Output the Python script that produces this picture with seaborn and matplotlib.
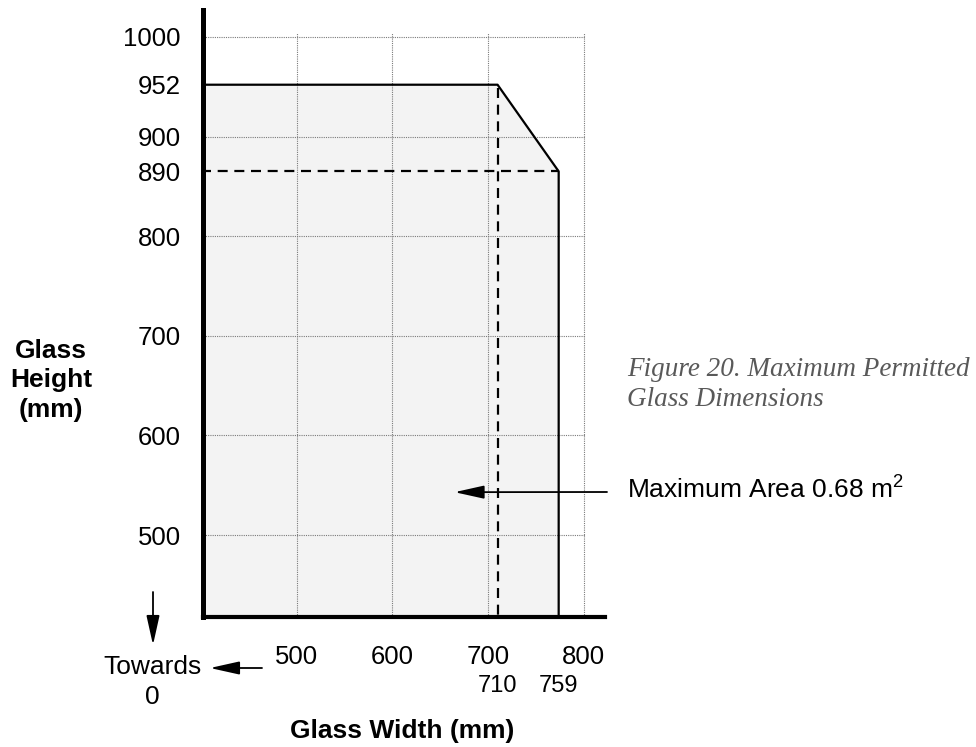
import numpy as np
import matplotlib
matplotlib.use("Agg")
import matplotlib.pyplot as plt
import seaborn as sns

# permitted glass envelope (mm)
env_width = [400, 710, 759, 759]
env_height = [952, 952, 890, 0]
fill_width = [400, 710, 759]
fill_height = [952, 952, 890]
dash_width = 710
dash_height = 890

x_ticks = [500, 600, 700, 800]
x_marks = [710, 759]
y_ticks = [500, 600, 700, 800, 890, 900, 952, 1000]
grid_x = [500, 600, 700, 800]
grid_y = [500, 600, 700, 800, 900, 1000]

area_note = "Maximum Area 0.68 m$^{2}$"
area_point = (665, 543)
caption = "Figure 20. Maximum Permitted\nGlass Dimensions"

# the drawing is schematic, not to scale near the corner
x_src = [0, 710, 759, 800, 2000]
x_dst = [0, 710, 774, 800, 2000]
y_src = [0, 800, 890, 900, 2000]
y_dst = [0, 800, 865, 900, 2000]

sns.set_theme(style="white")
plt.rcParams['font.family'] = ['Liberation Sans', 'DejaVu Sans']
plt.rcParams['mathtext.fontset'] = 'custom'
plt.rcParams['mathtext.rm'] = 'Liberation Sans'
plt.rcParams['text.color'] = 'black'
plt.rcParams['axes.labelcolor'] = 'black'

W, H = 976, 747
fig = plt.figure(figsize=(W / 100, H / 100), dpi=100)
ax = fig.add_axes([203 / W, 1 - 617 / H, 402 / W, 607 / H])

ax.fill_between(fill_width, fill_height, 0, color='#f3f3f3', lw=0, zorder=1)
ax.hlines(grid_y, 400, 802, colors='#7a7a7a', lw=0.8, linestyles=(0, (1, 1)), zorder=2)
ax.vlines(grid_x, 0, 1004, colors='#7a7a7a', lw=0.8, linestyles=(0, (1, 1)), zorder=2)
sns.lineplot(x=env_width, y=env_height, sort=False, estimator=None,
             color='black', lw=1.6, ax=ax, zorder=4)
ax.hlines(dash_height, 400, env_width[-1], colors='black', lw=1.6,
          linestyles=(0, (4.5, 3)), zorder=3)
ax.vlines(dash_width, 0, fill_height[0], colors='black', lw=1.6,
          linestyles=(0, (4.5, 3)), zorder=3)

ax.set_xscale('function', functions=(lambda v: np.interp(v, x_src, x_dst),
                                     lambda v: np.interp(v, x_dst, x_src)))
ax.set_yscale('function', functions=(lambda v: np.interp(v, y_src, y_dst),
                                     lambda v: np.interp(v, y_dst, y_src)))
ax.set_xlim(401.6, 822.5)
ax.set_ylim(417.7, 1027)

ax.set_xticks(x_ticks, labels=[str(v) for v in x_ticks])
ax.set_xticks(x_marks, labels=[str(v) for v in x_marks], minor=True)
ax.set_yticks(y_ticks, labels=[str(v) for v in y_ticks])
ax.tick_params(axis='x', which='major', length=0, pad=20, labelsize=18.5, colors='black')
ax.tick_params(axis='x', which='minor', length=0, pad=42, labelsize=17, colors='black')
ax.tick_params(axis='y', length=0, pad=16, labelsize=18.5, colors='black')

for side in ['top', 'right']:
    ax.spines[side].set_visible(False)
ax.spines['left'].set_linewidth(3.6)
ax.spines['bottom'].set_linewidth(3.0)
for side in ['left', 'bottom']:
    ax.spines[side].set_color('black')

ax.set_xlabel("Glass Width (mm)", fontsize=19, fontweight='bold')
ax.xaxis.set_label_coords(0.495, -0.188)
ax.xaxis.label.set_va('center')
ax.set_ylabel("Glass\nHeight\n(mm)", fontsize=19, fontweight='bold',
              rotation=0, ha='center', va='center', linespacing=1.3)
ax.yaxis.set_label_coords(-0.378, 0.39)

head = '-|>,head_length=0.9,head_width=0.2'
ax.annotate('', xy=area_point, xycoords='data',
            xytext=(607 / W, 1 - 492 / H), textcoords='figure fraction',
            arrowprops=dict(arrowstyle=head, mutation_scale=20, color='black',
                            lw=1.3, shrinkA=0, shrinkB=0))
fig.text(627 / W, 1 - 489 / H, area_note, fontsize=19, ha='left', va='center')

fig.text(152 / W, 1 - 682 / H, "Towards\n0", fontsize=19, ha='center', va='center',
         multialignment='center', linespacing=1.3)
fig.add_artist(matplotlib.patches.FancyArrowPatch(
    (153 / W, 1 - 592 / H), (153 / W, 1 - 645 / H), transform=fig.transFigure,
    arrowstyle=head, mutation_scale=20, color='black', lw=1.3,
    shrinkA=0, shrinkB=0))
fig.add_artist(matplotlib.patches.FancyArrowPatch(
    (262 / W, 1 - 668 / H), (210 / W, 1 - 668 / H), transform=fig.transFigure,
    arrowstyle=head, mutation_scale=20, color='black', lw=1.3,
    shrinkA=0, shrinkB=0))

# caption: last line baseline
fig.text(627 / W, 1 - 406 / H, caption, fontsize=19.5, fontstyle='italic',
         family=['Liberation Serif'], color='#595959', ha='left', va='baseline',
         linespacing=1.28)

fig.savefig('out.png', dpi=100)
